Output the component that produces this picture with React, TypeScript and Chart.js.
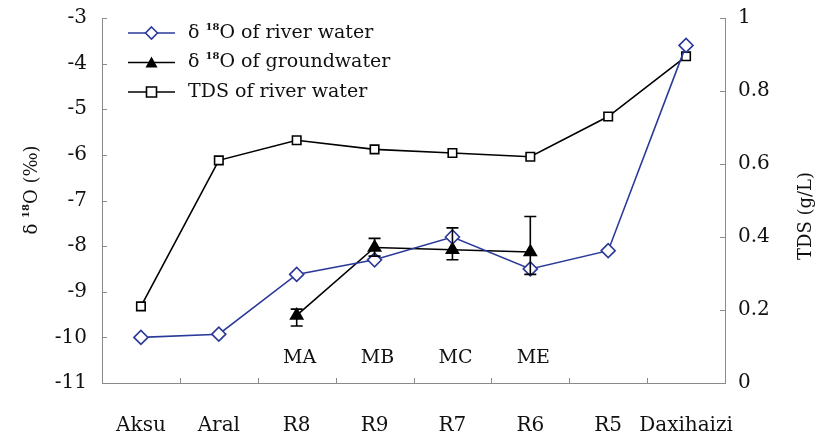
import React, { useEffect, useRef } from "react";
import { Chart, registerables } from "chart.js";
Chart.register(...registerables);

const categories = ["Aksu", "Aral", "R8", "R9", "R7", "R6", "R5", "Daxihaizi"];
const riverO18 = [-10.0, -9.93, -8.62, -8.3, -7.8, -8.5, -8.1, -3.6];
const groundO18 = [null, null, -9.52, -8.03, -8.08, -8.13, null, null];
const groundErrLow = [null, null, -9.75, -8.22, -8.3, -8.62, null, null];
const groundErrHigh = [null, null, -9.38, -7.83, -7.6, -7.35, null, null];
const riverTDS = [0.21, 0.61, 0.665, 0.64, 0.63, 0.62, 0.73, 0.895];
const wellLabels = [null, null, "MA", "MB", "MC", "ME", null, null];
const wellLabelValue = -10.45;
const leftMin = -11, leftMax = -3, leftStep = 1;
const rightMin = 0, rightMax = 1, rightStep = 0.2;

const FONT = '"DejaVu Serif", "Liberation Serif", serif';
const BLUE = "#2b3a98";
const AXIS = "#8a8a8a";

function drawSupText(ctx: CanvasRenderingContext2D, x: number, y: number, pre: string, sup: string, post: string, size: number) {
  ctx.textBaseline = "middle";
  ctx.textAlign = "left";
  ctx.font = `${size}px ${FONT}`;
  ctx.fillText(pre, x, y);
  let cx = x + ctx.measureText(pre).width;
  ctx.font = `bold ${Math.round(size * 0.55)}px ${FONT}`;
  ctx.fillText(sup, cx, y - size * 0.3);
  cx += ctx.measureText(sup).width;
  ctx.font = `${size}px ${FONT}`;
  ctx.fillText(post, cx, y);
  return cx + ctx.measureText(post).width;
}
function supWidth(ctx: CanvasRenderingContext2D, pre: string, sup: string, post: string, size: number) {
  ctx.font = `${size}px ${FONT}`;
  let w = ctx.measureText(pre).width + ctx.measureText(post).width;
  ctx.font = `bold ${Math.round(size * 0.55)}px ${FONT}`;
  w += ctx.measureText(sup).width;
  return w;
}

const extras = {
  id: "extras",
  afterDatasetsDraw(chart: any) {
    const ctx: CanvasRenderingContext2D = chart.ctx;
    const x = chart.scales.x, y = chart.scales.y, y1 = chart.scales.y1;
    const area = chart.chartArea;
    ctx.save();
    // inside ticks
    ctx.strokeStyle = AXIS;
    ctx.lineWidth = 1;
    for (let v = leftMin; v <= leftMax + 1e-9; v += leftStep) {
      const py = Math.round(y.getPixelForValue(v)) + 0.5;
      ctx.beginPath(); ctx.moveTo(area.left, py); ctx.lineTo(area.left + 5, py); ctx.stroke();
    }
    for (let v = rightMin; v <= rightMax + 1e-9; v += rightStep) {
      const py = Math.round(y1.getPixelForValue(v)) + 0.5;
      ctx.beginPath(); ctx.moveTo(area.right, py); ctx.lineTo(area.right - 5, py); ctx.stroke();
    }
    const n = categories.length;
    for (let i = 0; i <= n; i++) {
      const px = Math.round(x.getPixelForValue(i - 0.5)) + 0.5;
      ctx.beginPath(); ctx.moveTo(px, area.bottom); ctx.lineTo(px, area.bottom - 5); ctx.stroke();
    }
    // error bars
    ctx.strokeStyle = "#000";
    ctx.lineWidth = 1.6;
    for (let i = 0; i < n; i++) {
      const lo = groundErrLow[i], hi = groundErrHigh[i];
      if (lo == null || hi == null) continue;
      const px = x.getPixelForValue(i);
      const pl = y.getPixelForValue(lo), ph = y.getPixelForValue(hi);
      ctx.beginPath();
      ctx.moveTo(px, pl); ctx.lineTo(px, ph);
      ctx.moveTo(px - 6, pl); ctx.lineTo(px + 6, pl);
      ctx.moveTo(px - 6, ph); ctx.lineTo(px + 6, ph);
      ctx.stroke();
    }
    // well labels
    ctx.fillStyle = "#111";
    ctx.font = `19px ${FONT}`;
    ctx.textAlign = "center";
    ctx.textBaseline = "middle";
    for (let i = 0; i < n; i++) {
      const t = wellLabels[i];
      if (!t) continue;
      ctx.fillText(t, x.getPixelForValue(i) + 3, y.getPixelForValue(wellLabelValue));
    }
    // legend
    const items = [
      { pre: "δ ", sup: "18", post: "O of river water", color: BLUE, marker: "diamond" },
      { pre: "δ ", sup: "18", post: "O of groundwater", color: "#000", marker: "triangle" },
      { pre: "TDS of river water", sup: "", post: "", color: "#000", marker: "square" },
    ];
    const lx0 = area.left + 26, lx1 = area.left + 73, tx = area.left + 86;
    items.forEach((it, k) => {
      const ly = area.top + 15 + k * 29.5;
      ctx.strokeStyle = it.color;
      ctx.lineWidth = 1.6;
      ctx.beginPath(); ctx.moveTo(lx0, ly); ctx.lineTo(lx1, ly); ctx.stroke();
      const mx = (lx0 + lx1) / 2;
      ctx.beginPath();
      if (it.marker === "diamond") {
        ctx.moveTo(mx, ly - 6); ctx.lineTo(mx + 6, ly); ctx.lineTo(mx, ly + 6); ctx.lineTo(mx - 6, ly); ctx.closePath();
        ctx.fillStyle = "#fff"; ctx.fill(); ctx.stroke();
      } else if (it.marker === "triangle") {
        ctx.moveTo(mx, ly - 6); ctx.lineTo(mx + 6, ly + 5); ctx.lineTo(mx - 6, ly + 5); ctx.closePath();
        ctx.fillStyle = "#000"; ctx.fill();
      } else {
        ctx.rect(mx - 5, ly - 5, 10, 10);
        ctx.fillStyle = "#fff"; ctx.fill(); ctx.stroke();
      }
      ctx.fillStyle = "#111";
      drawSupText(ctx, tx, ly, it.pre, it.sup, it.post, 19);
    });
    // axis titles
    ctx.fillStyle = "#111";
    ctx.save();
    ctx.translate(32, 190);
    ctx.rotate(-Math.PI / 2);
    const w1 = supWidth(ctx, "δ ", "18", "O (‰)", 18);
    drawSupText(ctx, -w1 / 2, 0, "δ ", "18", "O (‰)", 18);
    ctx.restore();
    ctx.save();
    ctx.translate(806, 216);
    ctx.rotate(-Math.PI / 2);
    ctx.font = `18px ${FONT}`;
    ctx.textAlign = "center";
    ctx.textBaseline = "middle";
    ctx.fillText("TDS (g/L)", 0, 0);
    ctx.restore();
    ctx.restore();
  },
};

export default function App() {
  const ref = useRef<HTMLCanvasElement>(null);
  useEffect(() => {
    document.body.style.margin = "0";
    const chart = new Chart(ref.current!, {
      type: "line",
      data: {
        labels: categories,
        datasets: [
          {
            label: "river δ18O",
            data: riverO18,
            yAxisID: "y",
            borderColor: BLUE,
            borderWidth: 1.6,
            pointStyle: "rectRot",
            pointRadius: 7,
            pointBackgroundColor: "#fff",
            pointBorderColor: BLUE,
            pointBorderWidth: 1.6,
          },
          {
            label: "groundwater δ18O",
            data: groundO18 as any,
            yAxisID: "y",
            borderColor: "#000",
            borderWidth: 1.6,
            pointStyle: "triangle",
            pointRadius: 7,
            pointBackgroundColor: "#000",
            pointBorderColor: "#000",
          },
          {
            label: "TDS",
            data: riverTDS,
            yAxisID: "y1",
            borderColor: "#000",
            borderWidth: 1.6,
            pointStyle: "rect",
            pointRadius: 6,
            pointBackgroundColor: "#fff",
            pointBorderColor: "#000",
            pointBorderWidth: 1.6,
          },
        ],
      },
      options: {
        animation: false,
        responsive: false,
        layout: { padding: { top: 18, left: 0, right: 0, bottom: 0 } },
        plugins: { legend: { display: false }, tooltip: { enabled: false } },
        scales: {
          x: {
            offset: true,
            grid: { display: false, drawTicks: false },
            border: { display: true, color: AXIS },
            ticks: { color: "#111", font: { family: FONT, size: 20 }, padding: 31, maxRotation: 0, autoSkip: false },
            afterFit: (s: any) => { s.height = 59; s.paddingLeft = 0; s.paddingRight = 0; },
          },
          y: {
            position: "left",
            min: leftMin,
            max: leftMax,
            grid: { display: false, drawTicks: false },
            border: { display: true, color: AXIS },
            ticks: { stepSize: leftStep, color: "#111", font: { family: FONT, size: 20 }, padding: 15 },
            afterFit: (s: any) => { s.width = 102; s.paddingTop = 0; s.paddingBottom = 0; },
          },
          y1: {
            position: "right",
            min: rightMin,
            max: rightMax,
            grid: { display: false, drawTicks: false },
            border: { display: true, color: AXIS },
            ticks: {
              stepSize: rightStep,
              color: "#111",
              font: { family: FONT, size: 20 },
              padding: 13,
              callback: (v: any) => String(Math.round(Number(v) * 10) / 10),
            },
            afterFit: (s: any) => { s.width = 92; s.paddingTop = 0; s.paddingBottom = 0; },
          },
        },
      },
      plugins: [extras],
    });
    return () => chart.destroy();
  }, []);
  return <canvas ref={ref} width={817} height={442} style={{ display: "block" }} />;
}
